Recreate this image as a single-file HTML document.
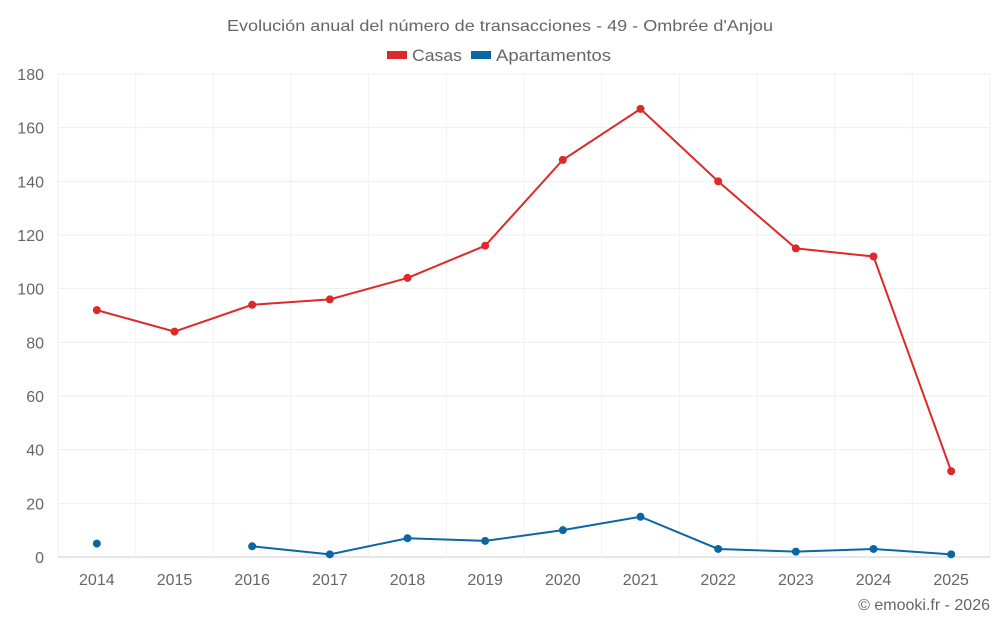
<!DOCTYPE html>
<html><head><meta charset="utf-8"><style>
body{margin:0;background:#fff;font-family:"Liberation Sans",sans-serif}
svg text{font-family:"Liberation Sans",sans-serif;fill:#666}
</style></head><body>
<svg id="c" width="1000" height="625">
<text x="500" y="31" text-anchor="middle" font-size="16" textLength="546" lengthAdjust="spacingAndGlyphs">Evolución anual del número de transacciones - 49 - Ombrée d'Anjou</text>
<g>
<g><rect x="387" y="51" width="20" height="8" fill="#dc2a2a"/><text x="412" y="61" font-size="17" textLength="50" lengthAdjust="spacingAndGlyphs">Casas</text></g>
<g><rect x="471" y="51" width="20" height="8" fill="#0a67a3"/><text x="496" y="61" font-size="17" textLength="115" lengthAdjust="spacingAndGlyphs">Apartamentos</text></g>
</g>
<g id="grid"></g>
<g id="axes"></g>
<g id="series"></g>
<text x="990" y="610" text-anchor="end" font-size="16">© emooki.fr - 2026</text>
</svg>
<script>
const years=["2014","2015","2016","2017","2018","2019","2020","2021","2022","2023","2024","2025"];
const casas=[92,84,94,96,104,116,148,167,140,115,112,32];
const apartamentos=[5,null,4,1,7,6,10,15,3,2,3,1];
const yTicks=[0,20,40,60,80,100,120,140,160,180];
const NS="http://www.w3.org/2000/svg";
const L=58,R=990,T=74,B=557,yMax=180;
const bw=(R-L)/years.length;
const x=i=>L+bw*(i+0.5);
const y=v=>B-(v/yMax)*(B-T);
function mk(tag,attrs,parent){const e=document.createElementNS(NS,tag);for(const k in attrs)e.setAttribute(k,attrs[k]);parent.appendChild(e);return e;}
const grid=document.getElementById('grid'),axes=document.getElementById('axes'),ser=document.getElementById('series');
yTicks.forEach(t=>{
 const l=mk('line',{x1:L,x2:R,y1:y(t),y2:y(t),stroke:t===0?'#ccc':'#eeeeee','stroke-width':1},grid);
 
 
 const tx=mk('text',{x:44,y:y(t)+6,'text-anchor':'end','font-size':16},axes);tx.textContent=t;
 
 
});
for(let i=0;i<=years.length;i++){
 const l=mk('line',{x1:L+bw*i,x2:L+bw*i,y1:T,y2:B,stroke:'#f2f2f2','stroke-width':1},grid);
 
 
}
years.forEach((yr,i)=>{
 const tx=mk('text',{x:x(i),y:585,'text-anchor':'middle','font-size':16},axes);tx.textContent=yr;
 
 
});
function draw(vals,color,name){
 let segs=[],cur=[];
 vals.forEach((v,i)=>{if(v==null){if(cur.length)segs.push(cur);cur=[];}else cur.push([x(i),y(v)]);});
 if(cur.length)segs.push(cur);
 segs.forEach(s=>{if(s.length>1){const p=mk('polyline',{points:s.map(q=>q.join(',')).join(' '),fill:'none',stroke:color,'stroke-width':2},ser);
  
  }});
 vals.forEach((v,i)=>{if(v==null)return;const c=mk('circle',{cx:x(i),cy:y(v),r:4,fill:color},ser);
  
  });
}
draw(casas,'#dc2a2a','casas');
draw(apartamentos,'#0a67a3','apartamentos');
</script>
</body></html>
